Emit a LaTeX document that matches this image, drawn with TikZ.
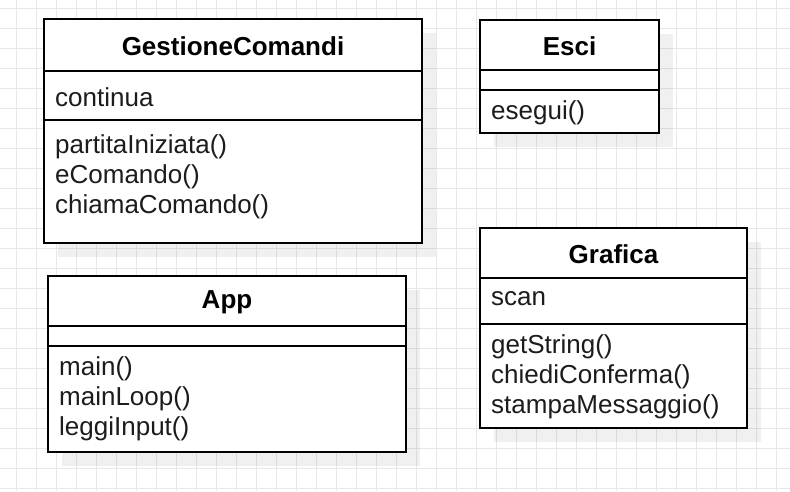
\documentclass[tikz,border=0pt]{standalone}
\usepackage{fontspec}
\setmainfont{Liberation Sans}
\usetikzlibrary{shadows}
\definecolor{gridgray}{HTML}{E8E8E8}
\definecolor{textgray}{HTML}{1C1C1C}
\begin{document}
\begin{tikzpicture}[x=1pt,y=-1pt,
    gridline/.style={draw=gridgray,line width=1pt},
    classbox/.style={draw,line width=2pt,fill=white,
      drop shadow={shadow xshift=14pt,shadow yshift=-14pt,fill=black,opacity=.06}},
    sepline/.style={line width=2pt},
    classname/.style={font=\bfseries\fontsize{26}{30}\selectfont,inner sep=0pt},
    member/.style={anchor=west,align=left,inner sep=0pt,text=textgray,
      font=\fontsize{26}{30}\selectfont}]
  \useasboundingbox (0,0) rectangle (790,491);
  \fill[white] (0,0) rectangle (790,491);
  \foreach \gx in {16,36,...,776} \draw[gridline] (\gx,0) -- (\gx,491);
  \foreach \gy in {8,28,...,488} \draw[gridline] (0,\gy) -- (790,\gy);

  \node[classbox,minimum width=378pt,minimum height=224pt] (gestione) at (233,131) {};
  \node[classname] (gestioneName) at (233,46) {GestioneComandi};
  \node[member] (gestioneAttr) at (55,97) {continua};
  \node[member] (gestioneOps) at (55,177) {partitaIniziata()\\eComando()\\chiamaComando()};
  \draw[sepline] (gestione.west |- 0,71) -- (gestione.east |- 0,71);
  \draw[sepline] (gestione.west |- 0,120) -- (gestione.east |- 0,120);

  \node[classbox,minimum width=179pt,minimum height=113pt] (esci) at (569.5,76.5) {};
  \node[classname] (esciName) at (569.5,46) {Esci};
  \node[member] (esciOps) at (491,113) {esegui()};
  \draw[sepline] (esci.west |- 0,70) -- (esci.east |- 0,70);
  \draw[sepline] (esci.west |- 0,90) -- (esci.east |- 0,90);

  \node[classbox,minimum width=358pt,minimum height=176pt] (app) at (227,364) {};
  \node[classname] (appName) at (227,302) {App};
  \node[member] (appOps) at (59,399) {main()\\mainLoop()\\leggiInput()};
  \draw[sepline] (app.west |- 0,326) -- (app.east |- 0,326);
  \draw[sepline] (app.west |- 0,346) -- (app.east |- 0,346);

  \node[classbox,minimum width=267pt,minimum height=200pt] (grafica) at (613.5,328) {};
  \node[classname] (graficaName) at (613.5,254) {Grafica};
  \node[member] (graficaAttr) at (491,299) {scan};
  \node[member] (graficaOps) at (491,377) {getString()\\chiediConferma()\\stampaMessaggio()};
  \draw[sepline] (grafica.west |- 0,278) -- (grafica.east |- 0,278);
  \draw[sepline] (grafica.west |- 0,324) -- (grafica.east |- 0,324);
\end{tikzpicture}
\end{document}
